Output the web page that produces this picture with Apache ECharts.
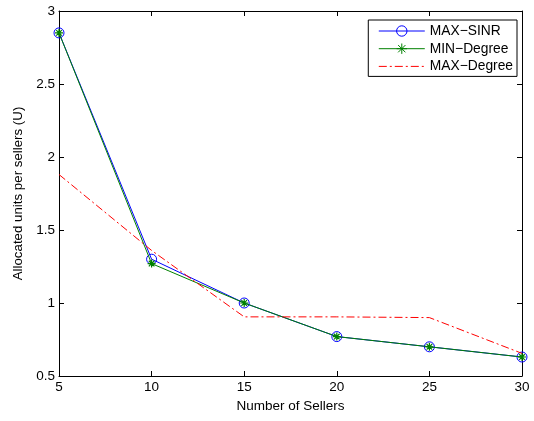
<!DOCTYPE html>
<html>
<head>
<meta charset="utf-8">
<script src="https://cdn.jsdelivr.net/npm/echarts@6/dist/echarts.min.js"></script>
<style>
  html, body { margin: 0; padding: 0; background: #fff; }
  #chart { width: 534px; height: 421px; }
</style>
</head>
<body>
<div id="chart"></div>
<script>
// Number of sellers on the x axis
const sellers = [5, 10, 15, 20, 25, 30];
// Allocated units per seller for each scheme
const maxSinr = [2.85, 1.30, 1.00, 0.77, 0.70, 0.63];
const minDegree = [2.85, 1.27, 1.00, 0.77, 0.70, 0.63];
const maxDegree = [1.88, 1.36, 0.905, 0.905, 0.90, 0.655];
const xTicks = [5, 10, 15, 20, 25, 30];
const yTicks = [0.5, 1, 1.5, 2, 2.5, 3];

const pair = (ys) => sellers.map((x, i) => [x, ys[i]]);
const font = 'Liberation Sans, Arial, Helvetica, sans-serif';
const starPath = 'path://M0,5 L10,5 M5,0 L5,10 M1.5,1.5 L8.5,8.5 M8.5,1.5 L1.5,8.5';
const dashDot = [8, 3, 2, 3];

const axisLine = { show: true, lineStyle: { color: '#000', width: 1 } };
const tickIn = { show: true, inside: true, length: 5, lineStyle: { color: '#000' } };

const chart = echarts.init(document.getElementById('chart'), null, { renderer: 'canvas' });
chart.setOption({
  animation: false,
  backgroundColor: '#fff',
  grid: { left: 59, right: 12, top: 11, bottom: 45, containLabel: false },
  xAxis: [
    {
      type: 'value', min: 5, max: 30, interval: 5, position: 'bottom',
      name: 'Number of Sellers', nameLocation: 'middle', nameGap: 22,
      nameTextStyle: { color: '#000', fontFamily: font, fontSize: 13.5 },
      axisLine, axisTick: tickIn, splitLine: { show: false },
      axisLabel: { color: '#000', fontFamily: font, fontSize: 13.5, margin: 4,
        formatter: (v) => xTicks.includes(v) ? String(v) : '' }
    },
    {
      type: 'value', min: 5, max: 30, interval: 5, position: 'top',
      axisLine, axisTick: tickIn, axisLabel: { show: false }, splitLine: { show: false }
    }
  ],
  yAxis: [
    {
      type: 'value', min: 0.5, max: 3, interval: 0.5, position: 'left',
      name: 'Allocated units per sellers (U)', nameLocation: 'middle', nameGap: 33,
      nameRotate: 90,
      nameTextStyle: { color: '#000', fontFamily: font, fontSize: 13.3 },
      axisLine, axisTick: tickIn, splitLine: { show: false },
      axisLabel: { color: '#000', fontFamily: font, fontSize: 13.5, margin: 4,
        formatter: (v) => yTicks.includes(v) ? String(v) : '' }
    },
    {
      type: 'value', min: 0.5, max: 3, interval: 0.5, position: 'right',
      axisLine, axisTick: tickIn, axisLabel: { show: false }, splitLine: { show: false }
    }
  ],
  legend: {
    right: 17, top: 20, orient: 'vertical',
    backgroundColor: '#fff', borderColor: '#000', borderWidth: 1, borderRadius: 0,
    padding: [4, 4, 3, 10], itemGap: 3, itemWidth: 46, itemHeight: 13,
    textStyle: { color: '#000', fontFamily: font, fontSize: 13.8 },
    lineStyle: { width: 1, inactiveWidth: 1 },
    data: [
      { name: 'MAX\u2212SINR', itemStyle: { borderWidth: 1 } },
      { name: 'MIN\u2212Degree', itemStyle: { borderWidth: 1 } },
      { name: 'MAX\u2212Degree', itemStyle: { color: 'transparent', borderWidth: 0 } }
    ]
  },
  series: [
    {
      name: 'MAX\u2212SINR', type: 'line', data: pair(maxSinr),
      symbol: 'circle', symbolSize: 10, showAllSymbol: true,
      lineStyle: { color: '#0000ff', width: 1 },
      itemStyle: { color: 'transparent', borderColor: '#0000ff', borderWidth: 1 },
      z: 2
    },
    {
      name: 'MIN\u2212Degree', type: 'line', data: pair(minDegree),
      symbol: starPath, symbolSize: 8, showAllSymbol: true,
      lineStyle: { color: '#008000', width: 1 },
      itemStyle: { color: 'none', borderColor: '#008000', borderWidth: 1.2 },
      z: 3
    },
    {
      name: 'MAX\u2212Degree', type: 'line', data: pair(maxDegree),
      symbol: 'none',
      lineStyle: { color: '#ff0000', width: 1, type: dashDot },
      itemStyle: { color: '#ff0000' },
      z: 4
    }
  ]
});
</script>
</body>
</html>
